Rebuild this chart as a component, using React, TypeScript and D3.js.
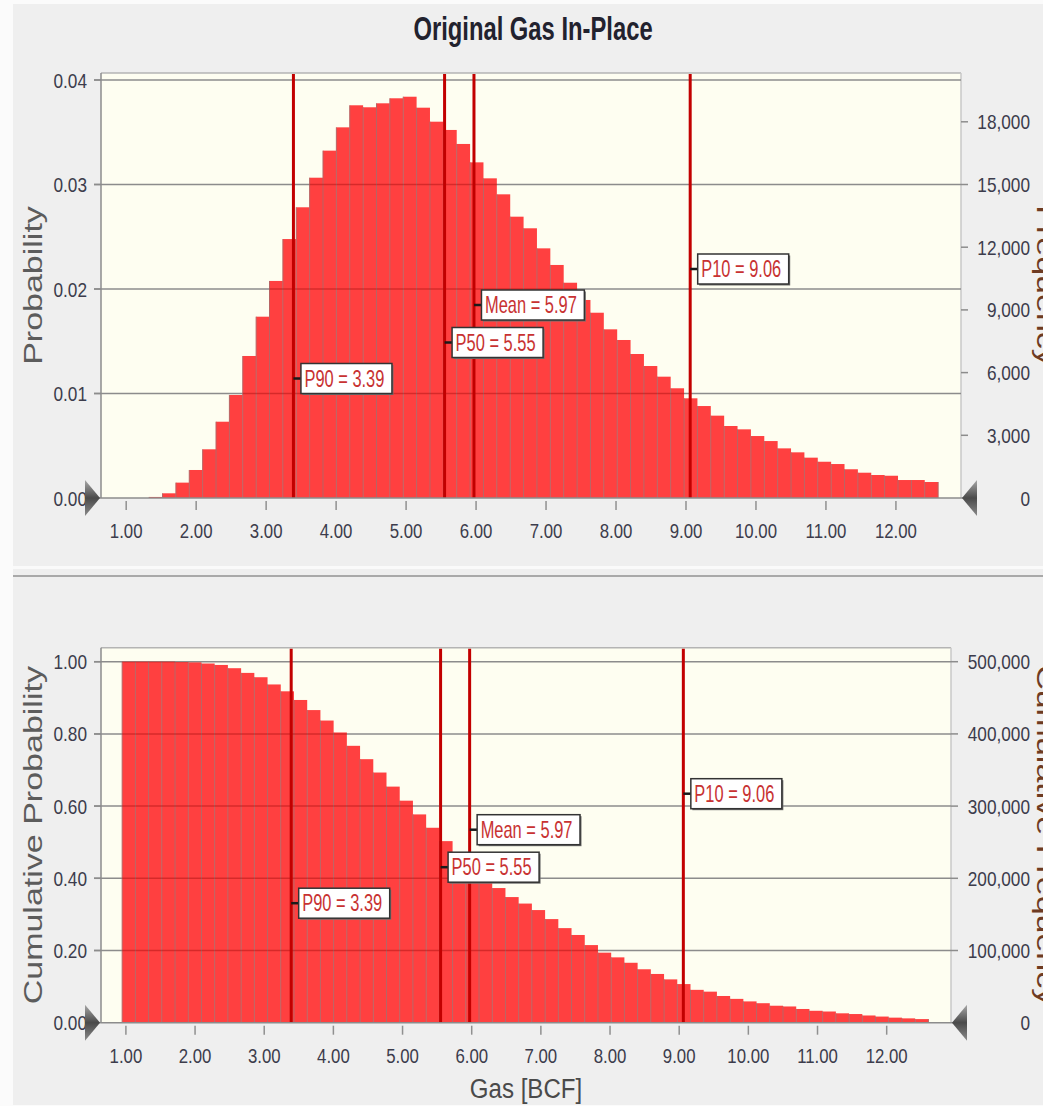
import React from "react";
import * as d3 from "d3";

// Histogram bins (BCF): 61 equal-width bins
const BIN_START = 0.946;
const BIN_WIDTH = 0.1911;
const TOTAL_TRIALS = 500000;

// Probability per bin
const binProbability = [
  0, 0, 0.0001, 0.00045, 0.00147, 0.00268, 0.00466, 0.0073, 0.00986, 0.01359,
  0.01735, 0.02077, 0.02478, 0.02782, 0.03065, 0.03324, 0.03547, 0.03758, 0.03739, 0.03777,
  0.03825, 0.0384, 0.03735, 0.03601, 0.03522, 0.03388, 0.03212, 0.03059, 0.02906, 0.02692,
  0.02581, 0.02389, 0.0223, 0.0206, 0.01895, 0.01773, 0.01614, 0.01512, 0.01378, 0.01263,
  0.01161, 0.0105, 0.00954, 0.0088, 0.00788, 0.00689, 0.00657, 0.00593, 0.00545, 0.00475,
  0.00437, 0.00386, 0.00347, 0.00325, 0.00275, 0.00242, 0.0022, 0.00213, 0.00172, 0.00172,
  0.00153,
];

// Cumulative (exceedance) probability per bin
const binCumulative = [
  1.0, 1.0, 1.0, 1.0, 0.999, 0.998, 0.995, 0.991, 0.982, 0.969,
  0.957, 0.937, 0.918, 0.894, 0.866, 0.837, 0.804, 0.767, 0.73, 0.693,
  0.654, 0.615, 0.577, 0.54, 0.503, 0.47, 0.437, 0.405, 0.373, 0.348,
  0.33, 0.312, 0.287, 0.262, 0.243, 0.215, 0.194, 0.181, 0.166, 0.148,
  0.135, 0.12, 0.107, 0.091, 0.086, 0.074, 0.066, 0.059, 0.054, 0.047,
  0.045, 0.038, 0.033, 0.031, 0.026, 0.024, 0.02, 0.017, 0.014, 0.012,
  0.01,
];

const markerNames = ["P90", "P50", "Mean", "P10"];
const markerValues = [3.39, 5.55, 5.97, 9.06];

const gasTicks = [1, 2, 3, 4, 5, 6, 7, 8, 9, 10, 11, 12];
const probabilityTicks = [0, 0.01, 0.02, 0.03, 0.04];
const frequencyTicks = [0, 3000, 6000, 9000, 12000, 15000, 18000];
const cumulativeTicks = [0, 0.2, 0.4, 0.6, 0.8, 1.0];
const cumulativeFrequencyTicks = [0, 100000, 200000, 300000, 400000, 500000];

const GAS_DOMAIN = [0.64, 12.93];
const FONT = '"Liberation Sans", Arial, Helvetica, sans-serif';
const LABEL_OFFSETS = [119.5, 155.5, 193, 229];

// Arial advance widths (em) for marker label text
const CHAR_W: Record<string, number> = {
  P: 0.667, M: 0.833, e: 0.556, a: 0.556, n: 0.556, " ": 0.278, "=": 0.584, ".": 0.278,
};
function textWidth(s: string, size: number) {
  let w = 0;
  for (const c of s) w += CHAR_W[c] ?? 0.556;
  return w * size;
}

function Label(props: {
  x: number; y: number; size: number; sx?: number; anchor?: string; fill?: string;
  weight?: any; rotate?: number; children: any;
}) {
  const { x, y, size, sx = 1, anchor = "start", fill = "#333", weight, rotate, children } = props;
  const t = `translate(${x},${y}) scale(${sx},1)` + (rotate ? ` rotate(${rotate})` : "");
  return (
    <text transform={t} fontSize={size} fontFamily={FONT} textAnchor={anchor as any} fill={fill} fontWeight={weight}>
      {children}
    </text>
  );
}

function Panel(props: {
  id: string; top: number; bottom: number; right: number; values: number[]; yMax: number;
  yTicks: number[]; countTicks: number[]; leftTitle: string; rightTitle: string;
}) {
  const { id, top, bottom, right, values, yMax, yTicks, countTicks, leftTitle, rightTitle } = props;
  const left = 101;
  const x = d3.scaleLinear().domain(GAS_DOMAIN).range([left, right]);
  const y = d3.scaleLinear().domain([0, yMax]).range([bottom, top]);
  const yCount = d3.scaleLinear().domain([0, yMax * TOTAL_TRIALS]).range([bottom, top]);
  const fmt2 = d3.format(".2f");
  const fmtCount = d3.format(",");
  const bars = values.map((v, k) => ({
    x0: x(BIN_START + k * BIN_WIDTH),
    x1: x(BIN_START + (k + 1) * BIN_WIDTH),
    top: y(v),
    v,
  })).filter((b) => b.v > 0);
  const midY = (top + bottom) / 2;
  const tickFill = "#3c3c4c";

  return (
    <g>
      <defs>
        <clipPath id={`bars-${id}`}>
          {bars.map((b, i) => (
            <rect key={i} x={b.x0} y={b.top} width={b.x1 - b.x0} height={bottom - b.top} />
          ))}
        </clipPath>
      </defs>
      {/* plot area */}
      <rect x={left} y={top} width={right - left} height={bottom - top} fill="#fefef1" />
      <line x1={left} x2={right} y1={top} y2={top} stroke="#b4b4b4" strokeWidth={1.5} />
      <line x1={right} x2={right} y1={top} y2={bottom} stroke="#c8c8c8" strokeWidth={1.5} />

      {/* grid behind bars */}
      {yTicks.filter((t) => t > 0).map((t) => (
        <line key={t} x1={left - 7} x2={right} y1={y(t)} y2={y(t)} stroke="#8c8c8c" strokeWidth={1.5} />
      ))}

      {/* bars */}
      {bars.map((b, i) => (
        <rect key={i} x={b.x0} y={b.top} width={b.x1 - b.x0} height={bottom - b.top} fill="#ff4040" />
      ))}
      {bars.map((b, i) => (
        <line key={"s" + i} x1={b.x0} x2={b.x0} y1={bottom} y2={b.top} stroke="#b86464" strokeWidth={1} />
      ))}
      {bars.length > 0 && (
        <line
          x1={bars[bars.length - 1].x1} x2={bars[bars.length - 1].x1}
          y1={bottom} y2={bars[bars.length - 1].top} stroke="#b86464" strokeWidth={1}
        />
      )}

      {/* grid tint over bars */}
      <g clipPath={`url(#bars-${id})`}>
        {yTicks.filter((t) => t > 0).map((t) => (
          <line key={t} x1={left} x2={right} y1={y(t)} y2={y(t)} stroke="#8a0000" strokeOpacity={0.35} strokeWidth={1.5} />
        ))}
      </g>

      {/* marker lines */}
      {markerValues.map((v, i) => (
        <line key={i} x1={x(v)} x2={x(v)} y1={top + 1} y2={bottom} stroke="#c20000" strokeWidth={3} />
      ))}

      {/* axes */}
      <line x1={left} x2={left} y1={top} y2={bottom} stroke="#8c8c8c" strokeWidth={1.5} />
      <line x1={left} x2={right} y1={bottom} y2={bottom} stroke="#8c8c8c" strokeWidth={1.5} />

      {/* x ticks */}
      {gasTicks.map((t) => (
        <g key={t}>
          <line x1={x(t)} x2={x(t)} y1={bottom + 3} y2={bottom + 12} stroke="#909090" strokeWidth={1.5} />
          <Label x={x(t)} y={bottom + 40} size={21} sx={0.8} anchor="middle" fill={tickFill}>
            {fmt2(t)}
          </Label>
        </g>
      ))}

      {/* left ticks */}
      {yTicks.map((t) => (
        <g key={t}>
          <line x1={left - 7} x2={left} y1={y(t)} y2={y(t)} stroke="#8c8c8c" strokeWidth={1.5} />
          <Label x={87} y={y(t) + 7.5} size={21} sx={0.82} anchor="end" fill={tickFill}>
            {fmt2(t)}
          </Label>
        </g>
      ))}

      {/* right ticks */}
      {countTicks.map((t) => (
        <g key={t}>
          <line x1={right} x2={right + 7} y1={yCount(t)} y2={yCount(t)} stroke="#8c8c8c" strokeWidth={1.5} />
          <Label x={1030} y={yCount(t) + 7.5} size={21} sx={0.82} anchor="end" fill={tickFill}>
            {fmtCount(t)}
          </Label>
        </g>
      ))}

      {/* axis titles */}
      <Label x={42} y={midY} size={34} sx={0.75} rotate={-90} anchor="middle" fill="#5c5c5c">
        {leftTitle}
      </Label>
      <Label x={1037} y={midY} size={34} sx={0.75} rotate={90} anchor="middle" fill="#6e3b22">
        {rightTitle}
      </Label>

      {/* zero markers */}
      <path d={`M${left - 1},${bottom} L${left - 16},${bottom - 18} L${left - 16},${bottom + 18} Z`} fill="url(#coneGrad)" />
      <path d={`M${right + 1},${bottom} L${right + 16},${bottom - 18} L${right + 16},${bottom + 18} Z`} fill="url(#coneGrad)" />

      {/* marker labels */}
      {markerNames.map((name, i) => {
        const lx = x(markerValues[i]);
        const cy = bottom - LABEL_OFFSETS[i];
        const text = `${name} = ${markerValues[i].toFixed(2)}`;
        const tw = textWidth(text, 23) * 0.715;
        const bx = lx + 7.5;
        const bw = tw + 11;
        const bh = 30;
        return (
          <g key={name}>
            <line x1={lx} x2={bx} y1={cy} y2={cy} stroke="#1a1a1a" strokeWidth={2.5} />
            <rect x={bx + 1.5} y={cy - bh / 2 + 1.5} width={bw} height={bh} fill="#707070" />
            <rect x={bx} y={cy - bh / 2} width={bw} height={bh} fill="#ffffff" stroke="#333333" strokeWidth={1.5} />
            <Label x={bx + 3.5} y={cy + 8} size={23} sx={0.715} fill="#c83232">
              {text}
            </Label>
          </g>
        );
      })}
    </g>
  );
}

export default function App() {
  return (
    <div style={{ position: "absolute", left: 0, top: 0 }}>
      <svg width={1043} height={1106} viewBox="0 0 1043 1106" style={{ display: "block" }}>
        <defs>
          <linearGradient id="coneGrad" x1="0" y1="0" x2="0" y2="1">
            <stop offset="0" stopColor="#a8a8a8" />
            <stop offset="0.5" stopColor="#4a4a4a" />
            <stop offset="1" stopColor="#8a8a8a" />
          </linearGradient>
        </defs>
        <rect x={0} y={0} width={1043} height={1106} fill="#fbfbfb" />
        <rect x={13} y={4} width={1030} height={1101} fill="#efefef" />
        <rect x={13} y={566} width={1030} height={3} fill="#fafafa" />
        <rect x={13} y={575} width={1030} height={2} fill="#a9a9a9" />

        <Label x={533} y={40} size={34} sx={0.7} anchor="middle" fill="#22222e" weight="bold">
          Original Gas In-Place
        </Label>

        <Panel
          id="pdf" top={73} bottom={498} right={961} values={binProbability} yMax={0.04067}
          yTicks={probabilityTicks} countTicks={frequencyTicks}
          leftTitle="Probability" rightTitle="Frequency"
        />
        <Panel
          id="cdf" top={647.7} bottom={1022.7} right={951} values={binCumulative} yMax={1.0388}
          yTicks={cumulativeTicks} countTicks={cumulativeFrequencyTicks}
          leftTitle="Cumulative Probability" rightTitle="Cumulative Frequency"
        />

        <Label x={526} y={1098} size={28} sx={0.86} anchor="middle" fill="#4a4a4a">
          Gas [BCF]
        </Label>
      </svg>
    </div>
  );
}
